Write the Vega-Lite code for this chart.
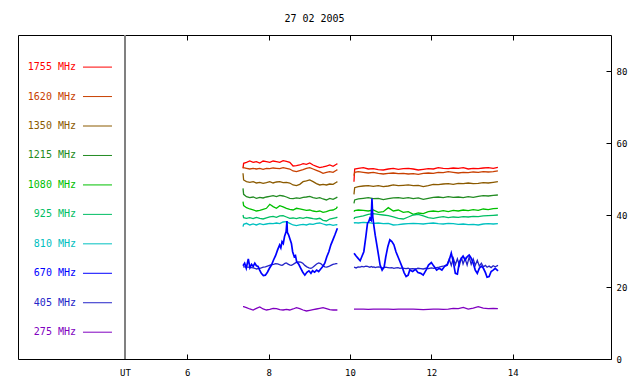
{
  "$schema": "https://vega.github.io/schema/vega-lite/v6.json",
  "width": 593,
  "height": 324,
  "autosize": "none",
  "padding": {"left": 18, "top": 35, "right": 29, "bottom": 25},
  "background": "white",
  "title": {"text": "27 02 2005", "font": "DejaVu Sans Mono", "fontSize": 10, "fontWeight": "normal", "color": "black", "anchor": "middle", "offset": 11},
  "config": {
    "view": {"stroke": "black", "strokeWidth": 1},
    "axis": {"labelFont": "DejaVu Sans Mono", "labelFontSize": 9, "labelColor": "black", "titleFont": "DejaVu Sans Mono", "titleFontSize": 9, "titleFontWeight": "normal", "titleColor": "black", "tickColor": "black", "grid": false, "domain": false}
  },
  "datasets": {
    "flat": [
      {"s":1,"t":7.37,"1755":52.97,"1620":53.43,"1350":51.58,"1215":47.41,"1080":43.7,"925":40.0,"810":36.76,"275":14.54},
      {"s":1,"t":7.385,"1755":54.36,"1620":53.15,"1350":49.73,"1215":45.74,"1080":42.6,"925":39.26,"810":37.41,"275":14.54},
      {"s":1,"t":7.455,"1755":54.63,"1620":52.97,"1350":49.26,"1215":45.1,"1080":42.04,"925":39.08,"810":37.69,"275":14.26},
      {"s":1,"t":7.537,"1755":55.0,"1620":52.78,"1350":49.08,"1215":44.82,"1080":41.67,"925":39.26,"810":37.23,"275":13.89},
      {"s":1,"t":7.619,"1755":54.63,"1620":52.97,"1350":49.26,"1215":45.0,"1080":41.39,"925":38.98,"810":37.5,"275":13.61},
      {"s":1,"t":7.70,"1755":54.82,"1620":52.78,"1350":48.89,"1215":44.63,"1080":41.11,"925":39.35,"810":37.23,"275":14.08},
      {"s":1,"t":7.782,"1755":54.45,"1620":52.97,"1350":49.08,"1215":44.91,"1080":41.3,"925":39.08,"810":37.6,"275":14.45},
      {"s":1,"t":7.864,"1755":55.0,"1620":52.69,"1350":48.8,"1215":44.73,"1080":41.58,"925":38.89,"810":37.32,"275":13.89},
      {"s":1,"t":7.946,"1755":54.82,"1620":52.97,"1350":48.98,"1215":45.0,"1080":41.86,"925":39.17,"810":37.5,"275":13.61},
      {"s":1,"t":8.028,"1755":54.63,"1620":52.87,"1350":49.26,"1215":45.19,"1080":42.97,"925":39.45,"810":37.69,"275":13.8},
      {"s":1,"t":8.11,"1755":55.0,"1620":53.06,"1350":48.89,"1215":45.37,"1080":42.32,"925":39.63,"810":37.6,"275":14.08},
      {"s":1,"t":8.192,"1755":54.82,"1620":52.97,"1350":49.17,"1215":45.1,"1080":41.86,"925":39.35,"810":37.78,"275":13.99},
      {"s":1,"t":8.274,"1755":54.63,"1620":52.87,"1350":49.26,"1215":45.47,"1080":42.6,"925":39.73,"810":37.6,"275":13.71},
      {"s":1,"t":8.356,"1755":55.1,"1620":53.15,"1350":48.98,"1215":45.28,"1080":42.23,"925":39.82,"810":38.06,"275":13.61},
      {"s":1,"t":8.438,"1755":54.91,"1620":52.97,"1350":49.08,"1215":45.0,"1080":41.86,"925":39.45,"810":38.15,"275":13.8},
      {"s":1,"t":8.519,"1755":54.63,"1620":52.78,"1350":48.89,"1215":44.63,"1080":41.58,"925":39.08,"810":37.69,"275":13.61},
      {"s":1,"t":8.601,"1755":53.61,"1620":52.23,"1350":48.34,"1215":44.54,"1080":41.39,"925":39.17,"810":37.23,"275":13.89},
      {"s":1,"t":8.683,"1755":53.71,"1620":52.04,"1350":48.15,"1215":44.73,"1080":41.86,"925":38.98,"810":37.04,"275":14.26},
      {"s":1,"t":8.765,"1755":53.89,"1620":52.32,"1350":48.52,"1215":44.63,"1080":41.67,"925":39.26,"810":37.23,"275":13.99},
      {"s":1,"t":8.847,"1755":54.26,"1620":52.6,"1350":49.26,"1215":44.91,"1080":41.48,"925":39.08,"810":37.41,"275":13.61},
      {"s":1,"t":8.929,"1755":54.08,"1620":52.97,"1350":49.45,"1215":45.0,"1080":41.3,"925":39.35,"810":37.23,"275":13.34},
      {"s":1,"t":9.011,"1755":54.45,"1620":53.15,"1350":49.73,"1215":45.19,"1080":41.39,"925":39.17,"810":37.5,"275":13.52},
      {"s":1,"t":9.093,"1755":53.89,"1620":52.78,"1350":49.26,"1215":44.82,"1080":41.11,"925":38.98,"810":37.41,"275":13.71},
      {"s":1,"t":9.175,"1755":53.52,"1620":52.41,"1350":48.71,"1215":44.63,"1080":40.93,"925":38.89,"810":37.69,"275":13.89},
      {"s":1,"t":9.257,"1755":53.15,"1620":52.04,"1350":48.34,"1215":44.82,"1080":41.11,"925":39.08,"810":37.78,"275":14.08},
      {"s":1,"t":9.338,"1755":53.34,"1620":51.58,"1350":48.52,"1215":44.45,"1080":40.74,"925":38.52,"810":37.5,"275":14.26},
      {"s":1,"t":9.42,"1755":53.61,"1620":51.86,"1350":48.34,"1215":44.17,"1080":40.93,"925":38.34,"810":37.23,"275":13.99},
      {"s":1,"t":9.502,"1755":53.89,"1620":52.04,"1350":48.61,"1215":44.63,"1080":41.3,"925":38.89,"810":37.41,"275":13.71},
      {"s":1,"t":9.584,"1755":53.52,"1620":51.86,"1350":48.52,"1215":44.36,"1080":41.39,"925":39.08,"810":37.13,"275":13.61},
      {"s":1,"t":9.666,"1755":54.08,"1620":52.41,"1350":49.08,"1215":44.82,"1080":41.86,"925":39.26,"810":37.32,"275":13.61},
      {"s":1,"t":9.69,"1755":54.26,"1620":52.6,"1350":49.26,"1215":45.0,"1080":42.32,"925":39.45,"810":37.23,"275":13.61},
      {"s":2,"t":10.098,"1755":49.26,"1620":50.93,"1350":45.74,"1215":43.24,"1080":40.93,"925":38.89,"810":37.69,"275":13.88},
      {"s":2,"t":10.115,"1755":52.78,"1620":51.86,"1350":47.6,"1215":44.17,"1080":41.2,"925":39.26,"810":37.87,"275":13.88},
      {"s":2,"t":10.205,"1755":52.97,"1620":52.04,"1350":47.87,"1215":44.45,"1080":41.39,"925":39.45,"810":37.78,"275":13.88},
      {"s":2,"t":10.328,"1755":53.15,"1620":51.86,"1350":48.06,"1215":44.63,"1080":41.3,"925":39.73,"810":37.97,"275":13.88},
      {"s":2,"t":10.45,"1755":52.78,"1620":51.67,"1350":48.15,"1215":44.82,"1080":41.11,"925":40.19,"810":37.87,"275":13.79},
      {"s":2,"t":10.573,"1755":52.87,"1620":51.86,"1350":47.97,"1215":44.54,"1080":41.39,"925":40.37,"810":37.69,"275":13.88},
      {"s":2,"t":10.696,"1755":52.6,"1620":51.58,"1350":48.15,"1215":44.63,"1080":40.74,"925":40.19,"810":37.78,"275":13.88},
      {"s":2,"t":10.819,"1755":52.5,"1620":51.39,"1350":47.87,"1215":44.26,"1080":40.93,"925":40.0,"810":37.6,"275":13.88},
      {"s":2,"t":10.942,"1755":52.78,"1620":51.58,"1350":48.06,"1215":44.54,"1080":42.04,"925":39.82,"810":37.69,"275":13.88},
      {"s":2,"t":11.065,"1755":52.97,"1620":51.67,"1350":48.34,"1215":44.73,"1080":41.11,"925":39.45,"810":37.23,"275":13.79},
      {"s":2,"t":11.188,"1755":52.69,"1620":51.48,"1350":48.15,"1215":44.82,"1080":41.39,"925":39.08,"810":37.32,"275":13.88},
      {"s":2,"t":11.31,"1755":52.87,"1620":51.58,"1350":48.24,"1215":44.63,"1080":40.74,"925":38.89,"810":37.5,"275":13.88},
      {"s":2,"t":11.433,"1755":52.97,"1620":51.39,"1350":48.34,"1215":44.82,"1080":40.93,"925":39.45,"810":37.6,"275":13.88},
      {"s":2,"t":11.556,"1755":52.78,"1620":51.48,"1350":48.15,"1215":44.54,"1080":40.19,"925":40.0,"810":37.69,"275":13.88},
      {"s":2,"t":11.679,"1755":52.5,"1620":51.3,"1350":48.24,"1215":44.73,"1080":40.56,"925":40.19,"810":37.6,"275":13.79},
      {"s":2,"t":11.802,"1755":52.69,"1620":51.58,"1350":47.87,"1215":44.36,"1080":40.37,"925":39.73,"810":37.5,"275":13.7},
      {"s":2,"t":11.925,"1755":52.87,"1620":51.67,"1350":48.15,"1215":44.63,"1080":40.93,"925":39.26,"810":37.69,"275":13.79},
      {"s":2,"t":12.048,"1755":52.78,"1620":51.58,"1350":48.52,"1215":44.91,"1080":41.11,"925":39.08,"810":37.78,"275":13.88},
      {"s":2,"t":12.17,"1755":53.15,"1620":51.86,"1350":48.43,"1215":45.0,"1080":40.93,"925":39.35,"810":37.6,"275":13.88},
      {"s":2,"t":12.293,"1755":52.97,"1620":51.76,"1350":48.61,"1215":44.82,"1080":41.2,"925":39.54,"810":37.5,"275":13.79},
      {"s":2,"t":12.416,"1755":52.87,"1620":52.04,"1350":48.71,"1215":45.1,"1080":40.93,"925":39.26,"810":37.69,"275":13.88},
      {"s":2,"t":12.539,"1755":53.06,"1620":51.86,"1350":48.52,"1215":44.91,"1080":41.3,"925":39.45,"810":37.6,"275":14.07},
      {"s":2,"t":12.662,"1755":52.97,"1620":51.67,"1350":48.8,"1215":45.0,"1080":41.11,"925":39.35,"810":37.41,"275":13.98},
      {"s":2,"t":12.785,"1755":53.15,"1620":51.86,"1350":48.71,"1215":44.82,"1080":41.39,"925":39.54,"810":37.5,"275":14.35},
      {"s":2,"t":12.907,"1755":52.78,"1620":51.76,"1350":48.89,"1215":45.1,"1080":41.2,"925":39.45,"810":37.32,"275":13.88},
      {"s":2,"t":13.03,"1755":52.97,"1620":51.95,"1350":48.71,"1215":44.91,"1080":41.48,"925":39.63,"810":37.41,"275":14.16},
      {"s":2,"t":13.153,"1755":52.87,"1620":51.86,"1350":48.8,"1215":45.19,"1080":41.3,"925":39.54,"810":37.23,"275":14.53},
      {"s":2,"t":13.276,"1755":53.06,"1620":52.04,"1350":48.98,"1215":45.37,"1080":41.67,"925":39.73,"810":37.5,"275":14.16},
      {"s":2,"t":13.399,"1755":53.15,"1620":51.95,"1350":48.89,"1215":45.28,"1080":41.48,"925":39.82,"810":37.6,"275":13.98},
      {"s":2,"t":13.522,"1755":52.97,"1620":52.04,"1350":49.08,"1215":45.47,"1080":41.76,"925":39.91,"810":37.5,"275":14.07},
      {"s":2,"t":13.636,"1755":53.24,"1620":52.23,"1350":49.26,"1215":45.56,"1080":41.86,"925":40.0,"810":37.6,"275":13.98}
    ],
    "blue": [
      {"s":1,"t":7.37,"670":25.9,"405":25.6},
      {"s":1,"t":7.41,"670":26.6,"405":25.6},
      {"s":1,"t":7.45,"670":25.2,"405":25.5},
      {"s":1,"t":7.50,"670":27.8,"405":25.5},
      {"s":1,"t":7.54,"670":25.4,"405":25.4},
      {"s":1,"t":7.58,"670":26.3,"405":25.4},
      {"s":1,"t":7.62,"670":25.7,"405":25.3},
      {"s":1,"t":7.66,"670":26.6,"405":25.2},
      {"s":1,"t":7.70,"670":25.9,"405":25.0},
      {"s":1,"t":7.74,"670":25.7,"405":25.1},
      {"s":1,"t":7.78,"670":24.7,"405":25.2},
      {"s":1,"t":7.82,"670":23.8,"405":25.3},
      {"s":1,"t":7.87,"670":23.2,"405":25.5},
      {"s":1,"t":7.92,"670":23.3,"405":25.6},
      {"s":1,"t":7.97,"670":24.1,"405":25.8},
      {"s":1,"t":8.02,"670":25.2,"405":26.0},
      {"s":1,"t":8.07,"670":26.1,"405":26.2},
      {"s":1,"t":8.12,"670":27.5,"405":26.3},
      {"s":1,"t":8.17,"670":28.7,"405":26.5},
      {"s":1,"t":8.22,"670":30.3,"405":26.4},
      {"s":1,"t":8.27,"670":31.7,"405":26.2},
      {"s":1,"t":8.30,"670":30.9,"405":26.1},
      {"s":1,"t":8.33,"670":32.6,"405":26.0},
      {"s":1,"t":8.36,"670":32.1,"405":26.2},
      {"s":1,"t":8.39,"670":34.0,"405":26.5},
      {"s":1,"t":8.43,"670":35.4,"405":26.7},
      {"s":1,"t":8.45,"670":38.3,"405":26.6},
      {"s":1,"t":8.46,"670":35.2,"405":26.5},
      {"s":1,"t":8.49,"670":34.5,"405":26.3},
      {"s":1,"t":8.53,"670":33.1,"405":26.1},
      {"s":1,"t":8.56,"670":32.1,"405":26.0},
      {"s":1,"t":8.59,"670":29.8,"405":26.2},
      {"s":1,"t":8.63,"670":28.4,"405":26.5},
      {"s":1,"t":8.66,"670":28.7,"405":26.7},
      {"s":1,"t":8.69,"670":27.0,"405":26.9},
      {"s":1,"t":8.74,"670":26.3,"405":27.0},
      {"s":1,"t":8.79,"670":25.2,"405":26.9},
      {"s":1,"t":8.84,"670":24.1,"405":26.6},
      {"s":1,"t":8.89,"670":23.3,"405":26.0},
      {"s":1,"t":8.94,"670":24.1,"405":25.6},
      {"s":1,"t":8.99,"670":24.5,"405":25.3},
      {"s":1,"t":9.04,"670":23.8,"405":25.2},
      {"s":1,"t":9.08,"670":24.5,"405":25.4},
      {"s":1,"t":9.13,"670":24.1,"405":25.9},
      {"s":1,"t":9.18,"670":24.7,"405":26.4},
      {"s":1,"t":9.23,"670":24.3,"405":26.7},
      {"s":1,"t":9.28,"670":25.0,"405":26.5},
      {"s":1,"t":9.33,"670":25.7,"405":26.0},
      {"s":1,"t":9.38,"670":26.6,"405":25.6},
      {"s":1,"t":9.43,"670":28.4,"405":25.5},
      {"s":1,"t":9.48,"670":29.8,"405":25.7},
      {"s":1,"t":9.53,"670":31.7,"405":26.0},
      {"s":1,"t":9.58,"670":33.1,"405":26.3},
      {"s":1,"t":9.63,"670":34.5,"405":26.4},
      {"s":1,"t":9.66,"670":35.4,"405":26.5},
      {"s":1,"t":9.69,"670":36.3,"405":26.5},
      {"s":2,"t":10.10,"670":29.35,"405":25.5},
      {"s":2,"t":10.15,"670":28.6,"405":25.3},
      {"s":2,"t":10.20,"670":27.96,"405":25.6},
      {"s":2,"t":10.25,"670":27.3,"405":25.5},
      {"s":2,"t":10.29,"670":28.4,"405":25.7},
      {"s":2,"t":10.34,"670":29.8,"405":25.6},
      {"s":2,"t":10.39,"670":34.0,"405":25.8},
      {"s":2,"t":10.43,"670":37.7,"405":25.7},
      {"s":2,"t":10.46,"670":38.1,"405":25.6},
      {"s":2,"t":10.49,"670":39.1,"405":25.5},
      {"s":2,"t":10.52,"670":38.6,"405":25.7},
      {"s":2,"t":10.54,"670":44.6,"405":25.6},
      {"s":2,"t":10.56,"670":39.5,"405":25.5},
      {"s":2,"t":10.59,"670":36.8,"405":25.6},
      {"s":2,"t":10.62,"670":34.4,"405":25.4},
      {"s":2,"t":10.66,"670":31.7,"405":25.5},
      {"s":2,"t":10.70,"670":28.9,"405":25.6},
      {"s":2,"t":10.74,"670":26.1,"405":25.5},
      {"s":2,"t":10.79,"670":24.7,"405":25.3},
      {"s":2,"t":10.84,"670":25.6,"405":25.4},
      {"s":2,"t":10.88,"670":28.4,"405":25.5},
      {"s":2,"t":10.93,"670":31.2,"405":25.4},
      {"s":2,"t":10.98,"670":33.1,"405":25.3},
      {"s":2,"t":11.03,"670":32.6,"405":25.4},
      {"s":2,"t":11.08,"670":31.7,"405":25.2},
      {"s":2,"t":11.13,"670":29.8,"405":25.3},
      {"s":2,"t":11.18,"670":28.4,"405":25.4},
      {"s":2,"t":11.23,"670":27.0,"405":25.2},
      {"s":2,"t":11.28,"670":25.6,"405":25.3},
      {"s":2,"t":11.33,"670":24.0,"405":25.2},
      {"s":2,"t":11.38,"670":22.9,"405":25.1},
      {"s":2,"t":11.43,"670":23.3,"405":25.2},
      {"s":2,"t":11.47,"670":24.7,"405":25.0},
      {"s":2,"t":11.54,"670":24.3,"405":25.1},
      {"s":2,"t":11.61,"670":24.9,"405":25.0},
      {"s":2,"t":11.67,"670":24.0,"405":25.2},
      {"s":2,"t":11.74,"670":23.8,"405":25.1},
      {"s":2,"t":11.80,"670":23.3,"405":25.0},
      {"s":2,"t":11.87,"670":24.7,"405":25.2},
      {"s":2,"t":11.93,"670":26.1,"405":25.1},
      {"s":2,"t":12.00,"670":26.8,"405":25.3},
      {"s":2,"t":12.06,"670":25.8,"405":25.2},
      {"s":2,"t":12.13,"670":24.7,"405":25.4},
      {"s":2,"t":12.19,"670":25.2,"405":25.5},
      {"s":2,"t":12.26,"670":24.7,"405":25.7},
      {"s":2,"t":12.33,"670":25.8,"405":25.9},
      {"s":2,"t":12.39,"670":26.1,"405":26.3},
      {"s":2,"t":12.44,"670":27.5,"405":27.8},
      {"s":2,"t":12.49,"670":29.4,"405":26.0},
      {"s":2,"t":12.54,"670":27.0,"405":28.0},
      {"s":2,"t":12.59,"670":23.8,"405":26.2},
      {"s":2,"t":12.64,"670":23.6,"405":27.8},
      {"s":2,"t":12.69,"670":27.0,"405":26.0},
      {"s":2,"t":12.74,"670":28.0,"405":28.2},
      {"s":2,"t":12.78,"670":28.6,"405":26.4},
      {"s":2,"t":12.83,"670":27.5,"405":27.9},
      {"s":2,"t":12.88,"670":28.4,"405":26.1},
      {"s":2,"t":12.93,"670":28.9,"405":28.3},
      {"s":2,"t":12.98,"670":28.0,"405":26.3},
      {"s":2,"t":13.03,"670":26.6,"405":27.8},
      {"s":2,"t":13.08,"670":24.7,"405":26.0},
      {"s":2,"t":13.13,"670":23.8,"405":27.4},
      {"s":2,"t":13.18,"670":25.2,"405":25.8},
      {"s":2,"t":13.23,"670":25.8,"405":26.6},
      {"s":2,"t":13.28,"670":25.2,"405":25.6},
      {"s":2,"t":13.33,"670":24.0,"405":26.0},
      {"s":2,"t":13.37,"670":22.7,"405":25.5},
      {"s":2,"t":13.42,"670":22.9,"405":25.8},
      {"s":2,"t":13.47,"670":24.3,"405":25.4},
      {"s":2,"t":13.52,"670":24.7,"405":25.9},
      {"s":2,"t":13.57,"670":25.2,"405":25.6},
      {"s":2,"t":13.64,"670":24.5,"405":26.0}
    ],
    "legend": [
      {"f":"1755","label":"1755 MHz"},
      {"f":"1620","label":"1620 MHz"},
      {"f":"1350","label":"1350 MHz"},
      {"f":"1215","label":"1215 MHz"},
      {"f":"1080","label":"1080 MHz"},
      {"f":"925","label":"925 MHz"},
      {"f":"810","label":"810 MHz"},
      {"f":"670","label":"670 MHz"},
      {"f":"405","label":"405 MHz"},
      {"f":"275","label":"275 MHz"}
    ]
  },
  "layer": [
    {
      "data": {"name": "legend"},
      "mark": {"type": "rule", "color": "#808080", "strokeWidth": 1},
      "encoding": {
        "x": {"datum": 4.468, "type": "quantitative", "scale": {"domain": [1.838, 16.417], "nice": false, "zero": false},
              "axis": {"orient": "top", "values": [6, 8, 10, 12, 14], "labels": false, "tickSize": -5, "title": null}}
      }
    },
    {
      "data": {"name": "flat"},
      "transform": [{"fold": ["1755", "1620", "1350", "1215", "1080", "925", "810", "275"], "as": ["f", "v"]}],
      "mark": {"type": "line", "strokeWidth": 1.3},
      "encoding": {
        "x": {"field": "t", "type": "quantitative", "scale": {"domain": [1.838, 16.417], "nice": false, "zero": false},
              "axis": {"orient": "bottom", "values": [6, 8, 10, 12, 14], "tickSize": -5, "labelPadding": 14, "title": "UT", "titleX": 107, "titleY": 9, "titleAlign": "center", "titleBaseline": "top", "titleAnchor": null}},
        "y": {"field": "v", "type": "quantitative", "scale": {"domain": [0, 90], "nice": false},
              "axis": {"orient": "right", "values": [0, 20, 40, 60, 80], "tickSize": -5, "labelPadding": 10, "title": null}},
        "color": {"field": "f", "type": "nominal", "legend": null,
                  "scale": {"domain": ["1755", "1620", "1350", "1215", "1080", "925", "810", "670", "405", "275"],
                            "range": ["#ff0000", "#c84000", "#8b5a00", "#228b22", "#00c000", "#00be64", "#00c0c0", "#0000ff", "#2424c8", "#8000c0"]}},
        "detail": {"field": "s", "type": "nominal"}
      }
    },
    {
      "data": {"name": "blue"},
      "transform": [{"fold": ["405"], "as": ["f", "v"]}],
      "mark": {"type": "line", "strokeWidth": 1.3},
      "encoding": {
        "x": {"field": "t", "type": "quantitative", "scale": {"domain": [1.838, 16.417], "nice": false, "zero": false}, "axis": null},
        "y": {"field": "v", "type": "quantitative", "scale": {"domain": [0, 90], "nice": false}, "axis": null},
        "color": {"field": "f", "type": "nominal", "legend": null,
                  "scale": {"domain": ["1755", "1620", "1350", "1215", "1080", "925", "810", "670", "405", "275"],
                            "range": ["#ff0000", "#c84000", "#8b5a00", "#228b22", "#00c000", "#00be64", "#00c0c0", "#0000ff", "#2424c8", "#8000c0"]}},
        "detail": {"field": "s", "type": "nominal"}
      }
    },
    {
      "data": {"name": "blue"},
      "transform": [{"fold": ["670"], "as": ["f", "v"]}],
      "mark": {"type": "line", "strokeWidth": 1.7},
      "encoding": {
        "x": {"field": "t", "type": "quantitative", "scale": {"domain": [1.838, 16.417], "nice": false, "zero": false}, "axis": null},
        "y": {"field": "v", "type": "quantitative", "scale": {"domain": [0, 90], "nice": false}, "axis": null},
        "color": {"field": "f", "type": "nominal", "legend": null,
                  "scale": {"domain": ["1755", "1620", "1350", "1215", "1080", "925", "810", "670", "405", "275"],
                            "range": ["#ff0000", "#c84000", "#8b5a00", "#228b22", "#00c000", "#00be64", "#00c0c0", "#0000ff", "#2424c8", "#8000c0"]}},
        "detail": {"field": "s", "type": "nominal"}
      }
    },
    {
      "data": {"name": "legend"},
      "mark": {"type": "rule", "strokeWidth": 1},
      "encoding": {
        "x": {"datum": 3.436, "type": "quantitative", "scale": {"domain": [1.838, 16.417], "nice": false, "zero": false}, "axis": null},
        "x2": {"datum": 4.149},
        "y": {"field": "f", "type": "ordinal", "sort": ["1755", "1620", "1350", "1215", "1080", "925", "810", "670", "405", "275"],
              "scale": {"type": "point", "padding": 1.05, "align": 0.545}, "axis": null},
        "color": {"field": "f", "type": "nominal", "legend": null,
                  "scale": {"domain": ["1755", "1620", "1350", "1215", "1080", "925", "810", "670", "405", "275"],
                            "range": ["#ff0000", "#c84000", "#8b5a00", "#228b22", "#00c000", "#00be64", "#00c0c0", "#0000ff", "#2424c8", "#8000c0"]}}
      }
    },
    {
      "data": {"name": "legend"},
      "mark": {"type": "text", "align": "right", "baseline": "middle", "font": "DejaVu Sans Mono", "fontSize": 10},
      "encoding": {
        "x": {"datum": 3.264, "type": "quantitative", "scale": {"domain": [1.838, 16.417], "nice": false, "zero": false}, "axis": null},
        "y": {"field": "f", "type": "ordinal", "sort": ["1755", "1620", "1350", "1215", "1080", "925", "810", "670", "405", "275"],
              "scale": {"type": "point", "padding": 1.05, "align": 0.545}, "axis": null},
        "text": {"field": "label"},
        "color": {"field": "f", "type": "nominal", "legend": null,
                  "scale": {"domain": ["1755", "1620", "1350", "1215", "1080", "925", "810", "670", "405", "275"],
                            "range": ["#ff0000", "#c84000", "#8b5a00", "#228b22", "#00c000", "#00be64", "#00c0c0", "#0000ff", "#2424c8", "#8000c0"]}}
      }
    }
  ],
  "resolve": {"scale": {"y": "independent"}, "axis": {"x": "independent"}}
}
